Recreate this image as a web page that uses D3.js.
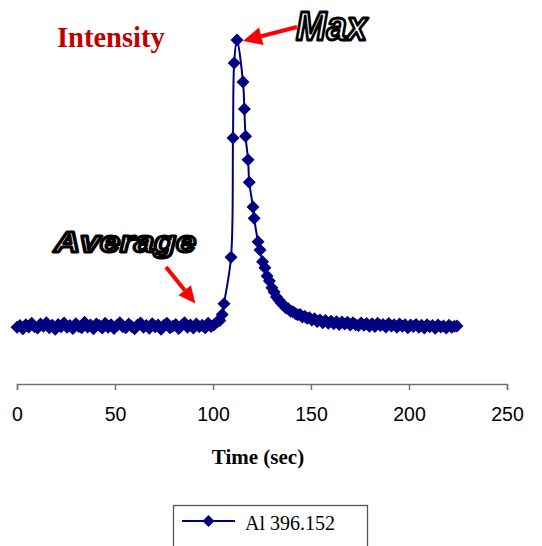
<!DOCTYPE html>
<html>
<head>
<meta charset="utf-8">
<script src="https://cdn.jsdelivr.net/npm/d3@7/dist/d3.min.js"></script>
<style>
  html, body { margin: 0; padding: 0; background: #fff; }
  svg { display: block; }
</style>
</head>
<body>
<svg id="chart" width="542" height="546"></svg>
<script>
// Al 396.152 emission intensity over a single run (arbitrary intensity units)
const seriesName = "Al 396.152";

const timeSec = [
  0, 1.5, 3, 4.5, 6, 7.5, 9, 10.5, 12, 13.5,
  15, 16.5, 18, 19.5, 21, 22.5, 24, 25.5, 27, 28.5,
  30, 31.5, 33, 34.5, 36, 37.5, 39, 40.5, 42, 43.5,
  45, 46.5, 48, 49.5, 51, 52.5, 54, 55.5, 57, 58.5,
  60, 61.5, 63, 64.5, 66, 67.5, 69, 70.5, 72, 73.5,
  75, 76.5, 78, 79.5, 81, 82.5, 84, 85.5, 87, 88.5,
  90, 91.5, 93, 94.5, 96, 97.5, 99, 100.5, 102, 103.5,
  104.7, 105.6, 109.2, 110.2, 110.8, 112.2,
  115.3, 116.0, 116.6, 117.9, 118.5, 120.4, 121.0, 123.0, 124.0,
  125.3, 126.5, 127.6, 128.8, 130.0, 131.2, 132.4, 133.6, 134.8, 136.0,
  137.2, 138.4, 139.6, 140.8, 142.0, 143.2, 144.4, 145.6, 146.8, 148.0,
  149.2, 150.4, 151.8, 153.2, 154.6, 156.0, 157.4, 158.8, 160.2, 161.6,
  163.0, 164.4, 165.8, 167.2, 168.6, 170.0, 171.4, 172.8, 174.2, 175.6,
  177.0, 178.4, 179.8, 181.2, 182.6, 184.0, 185.4, 186.8, 188.2, 189.6,
  191.0, 192.4, 193.8, 195.2, 196.6, 198.0, 199.4, 200.8, 202.2, 203.6,
  205.0, 206.4, 207.8, 209.2, 210.6, 212.0, 213.4, 214.8, 216.2, 217.6,
  219.0, 220.4, 221.8, 223.2, 224.5
];

const intensity = [
  960, 990, 935, 1005, 965, 1030, 970, 950, 1015, 980,
  1040, 955, 995, 930, 1010, 970, 1035, 960, 990, 940,
  1020, 975, 955, 1045, 965, 1000, 935, 1015, 990, 950,
  1030, 960, 1005, 940, 995, 1040, 970, 955, 1015, 975,
  935, 1000, 1035, 960, 990, 945, 1020, 970, 1000, 930,
  995, 1030, 955, 980, 1010, 940, 990, 1040, 960, 1000,
  950, 1015, 970, 995, 955, 1030, 975, 1005, 1050, 1075,
  1180, 1360, 2150, 4170, 5440, 5830,
  5120, 4660, 4200, 3800, 3420, 3000, 2810, 2410, 2270,
  2070, 1970, 1830, 1745, 1630, 1560, 1475, 1425, 1375, 1340,
  1290, 1275, 1235, 1225, 1195, 1175, 1180, 1135, 1150, 1115,
  1125, 1085, 1105, 1060, 1085, 1040, 1075, 1030, 1065, 1020,
  1055, 1010, 1050, 1015, 1045, 1000, 1040, 1005, 990, 1035,
  995, 1025, 980, 1020, 975, 1030, 990, 1010, 965, 1025,
  985, 1005, 960, 1015, 980, 1005, 955, 1000, 975, 1010,
  960, 995, 950, 1005, 970, 990, 945, 1000, 965, 985,
  950, 995, 960, 980, 985
];

const xTicks = [0, 50, 100, 150, 200, 250];
const xTitle = "Time (sec)";
const yTitle = "Intensity";
const maxLabel = "Max";
const avgLabel = "Average";

const data = timeSec.map((t, i) => ({ t, v: intensity[i] }));

const svg = d3.select("#chart");
svg.append("rect").attr("width", 542).attr("height", 546).attr("fill", "#fff");

const x = d3.scaleLinear().domain([0, 250]).range([17, 507]);
const y = d3.scaleLinear().domain([0, 6000]).range([384, 30]);

const navy = "#000080";
const red = "#ff0000";

// horizontal time axis (no vertical axis drawn)
const axis = svg.append("g")
  .attr("transform", `translate(0,${y(0)})`)
  .call(d3.axisBottom(x).tickValues(xTicks).tickSize(6).tickSizeOuter(6).tickPadding(17));
axis.select(".domain").attr("stroke", "#707070").attr("stroke-width", 1.4);
axis.selectAll(".tick line").attr("stroke", "#707070").attr("stroke-width", 1.4);
axis.selectAll(".tick text")
  .attr("font-family", "'Liberation Sans', Arial, sans-serif")
  .attr("font-size", 19.5)
  .attr("fill", "#000");

svg.append("text")
  .attr("x", 258).attr("y", 464)
  .attr("text-anchor", "middle")
  .attr("font-family", "'Liberation Serif', 'Times New Roman', serif")
  .attr("font-weight", "bold")
  .attr("font-size", 21)
  .text(xTitle);

svg.append("text")
  .attr("x", 57).attr("y", 47)
  .attr("font-family", "'Liberation Serif', 'Times New Roman', serif")
  .attr("font-weight", "bold")
  .attr("font-size", 28.5)
  .attr("fill", "#c00000")
  .text(yTitle);

// smoothed series line with diamond markers
const line = d3.line()
  .x(d => x(d.t))
  .y(d => y(d.v))
  .curve(d3.curveCatmullRom.alpha(0.5));

svg.append("path")
  .datum(data)
  .attr("d", line)
  .attr("fill", "none")
  .attr("stroke", navy)
  .attr("stroke-width", 2);

const diamond = (cx, cy, r) => `M${cx},${cy - r}L${cx + r},${cy}L${cx},${cy + r}L${cx - r},${cy}Z`;

svg.append("g").selectAll("path")
  .data(data)
  .join("path")
  .attr("d", d => diamond(x(d.t), y(d.v), 6.5))
  .attr("fill", navy);

// annotation arrows
function arrow(x1, y1, x2, y2, headLen, headHalf, width) {
  const ang = Math.atan2(y2 - y1, x2 - x1);
  const bx = x2 - headLen * Math.cos(ang), by = y2 - headLen * Math.sin(ang);
  svg.append("line")
    .attr("x1", x1).attr("y1", y1).attr("x2", bx).attr("y2", by)
    .attr("stroke", red).attr("stroke-width", width);
  const px = -Math.sin(ang), py = Math.cos(ang);
  svg.append("path")
    .attr("d", `M${x2},${y2}L${bx + px * headHalf},${by + py * headHalf}L${bx - px * headHalf},${by - py * headHalf}Z`)
    .attr("fill", red);
}

const peak = data.reduce((a, b) => (b.v > a.v ? b : a));
arrow(297, 27, x(peak.t) + 6, y(peak.v) + 1, 19, 9, 4);
arrow(166, 267, x(91), y(975) - 23, 17, 8, 4);

const outlined = (sel) => sel
  .attr("font-family", "'Liberation Sans', Arial, sans-serif")
  .attr("font-weight", "bold")
  .attr("font-style", "italic")
  .attr("fill", "#fff")
  .attr("stroke", "#000")
  .attr("stroke-width", 3)
  .attr("stroke-linejoin", "round");

svg.append("text")
  .attr("x", 296).attr("y", 40)
  .attr("font-size", 41)
  .attr("textLength", 71)
  .attr("lengthAdjust", "spacingAndGlyphs")
  .call(outlined)
  .text(maxLabel);

svg.append("text")
  .attr("x", 54).attr("y", 252)
  .attr("font-size", 30)
  .attr("textLength", 142)
  .attr("lengthAdjust", "spacingAndGlyphs")
  .call(outlined)
  .text(avgLabel);

// legend
const lg = svg.append("g");
lg.append("rect")
  .attr("x", 173.5).attr("y", 505.5).attr("width", 194).attr("height", 60)
  .attr("fill", "#fff").attr("stroke", "#555").attr("stroke-width", 1.3);
lg.append("line")
  .attr("x1", 182).attr("x2", 235).attr("y1", 521).attr("y2", 521)
  .attr("stroke", navy).attr("stroke-width", 2);
lg.append("path").attr("d", diamond(208.5, 521, 6)).attr("fill", navy);
lg.append("text")
  .attr("x", 245).attr("y", 530)
  .attr("font-family", "'Liberation Serif', 'Times New Roman', serif")
  .attr("font-size", 20)
  .attr("fill", "#000")
  .text(seriesName);
</script>
</body>
</html>
